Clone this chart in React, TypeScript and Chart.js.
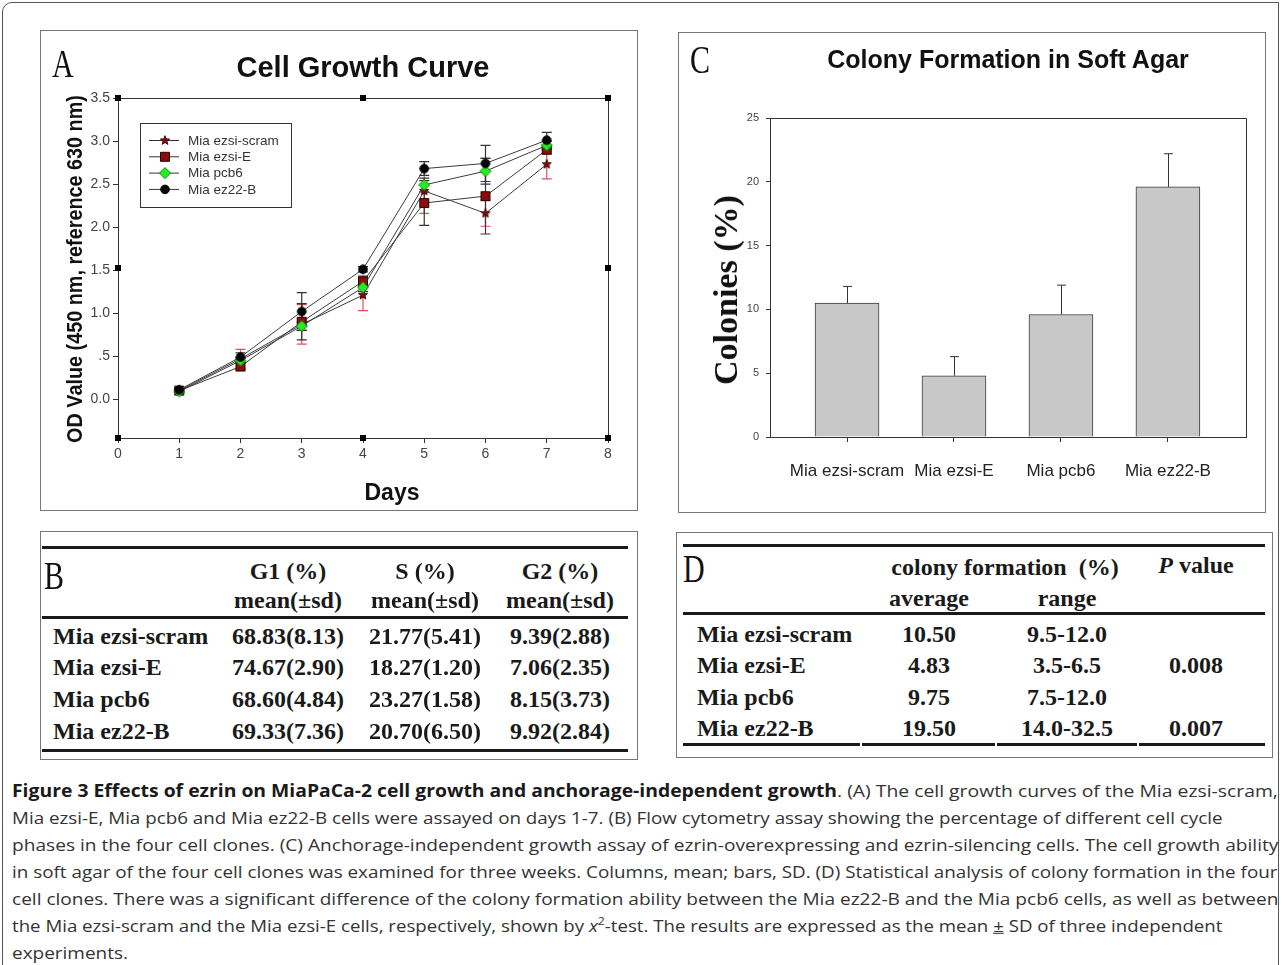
import React, { useEffect, useLayoutEffect, useRef, useState } from 'react';
import { Chart, registerables } from 'chart.js';

Chart.register(...registerables);

// ---------------- Panel A data ----------------
const days = [1, 2, 3, 4, 5, 6, 7];
const dayTicks = [0, 1, 2, 3, 4, 5, 6, 7, 8];
const dayTickLabels = ['0', '1', '2', '3', '4', '5', '6', '7', '8'];
const odTicks = [0, 0.5, 1, 1.5, 2, 2.5, 3, 3.5];
const odTickLabels = ['0.0', '.5', '1.0', '1.5', '2.0', '2.5', '3.0', '3.5'];
const cellLines = ['Mia ezsi-scram', 'Mia ezsi-E', 'Mia pcb6', 'Mia ez22-B'];

const odScram = [0.10, 0.47, 0.87, 1.21, 2.42, 2.16, 2.73];
const odEzsiE = [0.10, 0.38, 0.90, 1.37, 2.28, 2.36, 2.90];
const odPcb6 = [0.09, 0.45, 0.85, 1.30, 2.49, 2.65, 2.95];
const odEz22B = [0.11, 0.49, 1.02, 1.51, 2.68, 2.74, 3.01];

const sdScram = [0.02, 0.11, 0.23, 0.18, 0.26, 0.15, 0.17];
const sdEzsiE = [0.02, 0.04, 0.21, 0.06, 0.26, 0.44, 0.05];
const sdPcb6 = [0.02, 0.03, 0.05, 0.05, 0.08, 0.15, 0.05];
const sdEz22B = [0.02, 0.05, 0.22, 0.03, 0.08, 0.21, 0.09];

// ---------------- Panel C data ----------------
const colonyGroups = ['Mia ezsi-scram', 'Mia ezsi-E', 'Mia pcb6', 'Mia ez22-B'];
const colonyMean = [10.5, 4.8, 9.6, 19.6];
const colonySD = [1.3, 1.5, 2.3, 2.6];
const colonyTicks = [0, 5, 10, 15, 20, 25];

// ---------------- Panel B data ----------------
const cycleRows = ['Mia ezsi-scram', 'Mia ezsi-E', 'Mia pcb6', 'Mia ez22-B'];
const g1Values = ['68.83(8.13)', '74.67(2.90)', '68.60(4.84)', '69.33(7.36)'];
const sValues = ['21.77(5.41)', '18.27(1.20)', '23.27(1.58)', '20.70(6.50)'];
const g2Values = ['9.39(2.88)', '7.06(2.35)', '8.15(3.73)', '9.92(2.84)'];

// ---------------- Panel D data ----------------
const colonyRows = ['Mia ezsi-scram', 'Mia ezsi-E', 'Mia pcb6', 'Mia ez22-B'];
const colonyAverage = ['10.50', '4.83', '9.75', '19.50'];
const colonyRange = ['9.5-12.0', '3.5-6.5', '7.5-12.0', '14.0-32.5'];
const colonyP = ['', '0.008', '', '0.007'];

type MarkerKind = 'star' | 'square' | 'diamond' | 'circle';
const markerKinds: MarkerKind[] = ['star', 'square', 'diamond', 'circle'];
const errColors = ['#e4505a', '#333333', '#333333', '#333333'];
const odSeries = [odScram, odEzsiE, odPcb6, odEz22B];
const sdSeries = [sdScram, sdEzsiE, sdPcb6, sdEz22B];

function drawMarker(ctx: CanvasRenderingContext2D, kind: MarkerKind, x: number, y: number) {
  ctx.save();
  ctx.lineWidth = 1;
  ctx.beginPath();
  if (kind === 'star') {
    ctx.fillStyle = '#7a1010';
    ctx.strokeStyle = '#4a0000';
    const R = 4.8, r = 2.0;
    for (let k = 0; k < 10; k++) {
      const a = -Math.PI / 2 + (k * Math.PI) / 5;
      const rr = k % 2 === 0 ? R : r;
      const px = x + rr * Math.cos(a), py = y + rr * Math.sin(a);
      if (k === 0) ctx.moveTo(px, py); else ctx.lineTo(px, py);
    }
    ctx.closePath();
  } else if (kind === 'square') {
    ctx.fillStyle = '#8a0c0c';
    ctx.strokeStyle = '#2a0000';
    ctx.rect(x - 4.5, y - 4.5, 9, 9);
  } else if (kind === 'diamond') {
    ctx.fillStyle = '#22ee22';
    ctx.strokeStyle = '#118811';
    ctx.moveTo(x, y - 5.5);
    ctx.lineTo(x + 5.5, y);
    ctx.lineTo(x, y + 5.5);
    ctx.lineTo(x - 5.5, y);
    ctx.closePath();
  } else {
    ctx.fillStyle = '#050505';
    ctx.strokeStyle = '#000';
    ctx.arc(x, y, 4.3, 0, Math.PI * 2);
  }
  ctx.fill();
  ctx.stroke();
  ctx.restore();
}

function markerCanvas(kind: MarkerKind) {
  const c = document.createElement('canvas');
  c.width = 14;
  c.height = 14;
  const ctx = c.getContext('2d')!;
  drawMarker(ctx, kind, 7, 7);
  return c;
}

const SANS = '"Liberation Sans", Arial, Helvetica, sans-serif';
const SERIF = '"Liberation Serif", "Times New Roman", serif';

function GrowthChart() {
  const ref = useRef<HTMLCanvasElement>(null);
  useEffect(() => {
    if (!ref.current) return;
    const errorBars = {
      id: 'errorBarsA',
      beforeDatasetsDraw(chart: any) {
        const { ctx } = chart;
        const ys = chart.scales.y;
        ctx.save();
        chart.data.datasets.forEach((ds: any, i: number) => {
          const meta = chart.getDatasetMeta(i);
          ctx.strokeStyle = ds.errColor;
          ctx.lineWidth = 1.2;
          meta.data.forEach((pt: any, j: number) => {
            const v = ds.data[j].y;
            const sd = ds.sd[j];
            const x = pt.x;
            const y1 = ys.getPixelForValue(v + sd);
            const y2 = ys.getPixelForValue(v - sd);
            ctx.beginPath();
            ctx.moveTo(x, y1); ctx.lineTo(x, y2);
            ctx.moveTo(x - 5, y1); ctx.lineTo(x + 5, y1);
            ctx.moveTo(x - 5, y2); ctx.lineTo(x + 5, y2);
            ctx.stroke();
          });
        });
        ctx.restore();
      },
    };
    const frame = {
      id: 'frameA',
      afterDraw(chart: any) {
        const { ctx, chartArea } = chart;
        const { left, top, right, bottom } = chartArea;
        ctx.save();
        ctx.strokeStyle = '#333';
        ctx.lineWidth = 1;
        ctx.beginPath();
        ctx.moveTo(left, top + 0.5); ctx.lineTo(right + 0.5, top + 0.5); ctx.lineTo(right + 0.5, bottom);
        ctx.stroke();
        ctx.fillStyle = '#000';
        const mx = (left + right) / 2, my = (top + bottom) / 2;
        [[left, top], [mx, top], [right, top], [left, my], [right, my], [left, bottom], [mx, bottom], [right, bottom]].forEach(([x, y]) => {
          ctx.fillRect(Math.round(x) - 3, Math.round(y) - 3, 6, 6);
        });
        // legend
        const bx = Math.round(left + 22), by = Math.round(top + 25);
        ctx.fillStyle = '#fff';
        ctx.fillRect(bx, by, 151, 84);
        ctx.strokeStyle = '#333';
        ctx.strokeRect(bx + 0.5, by + 0.5, 151, 84);
        cellLines.forEach((name, i) => {
          const y = by + 17.5 + i * 16.3;
          ctx.strokeStyle = '#333';
          ctx.beginPath();
          ctx.moveTo(bx + 9, y); ctx.lineTo(bx + 39, y);
          ctx.stroke();
          drawMarker(ctx, markerKinds[i], bx + 25, y);
          ctx.fillStyle = '#333';
          ctx.font = `13.5px ${SANS}`;
          ctx.textBaseline = 'middle';
          ctx.textAlign = 'left';
          ctx.fillText(name, bx + 48, y + 0.5);
        });
        ctx.restore();
      },
    };
    const chart = new Chart(ref.current, {
      type: 'line',
      data: {
        datasets: cellLines.map((name, i) => ({
          label: name,
          data: days.map((d, j) => ({ x: d, y: odSeries[i][j] })),
          sd: sdSeries[i],
          errColor: errColors[i],
          borderColor: '#3c3c3c',
          borderWidth: 1,
          pointStyle: markerCanvas(markerKinds[i]),
          pointRadius: 5,
          order: 4 - i,
          fill: false,
          tension: 0,
        })) as any,
      },
      options: {
        animation: false,
        responsive: false,
        layout: { padding: { top: 66, right: 29, left: 0, bottom: 0 } },
        plugins: { legend: { display: false }, tooltip: { enabled: false } },
        scales: {
          x: {
            type: 'linear',
            min: 0,
            max: 8,
            afterBuildTicks: (s: any) => { s.ticks = dayTicks.map((v) => ({ value: v })); },
            afterFit: (s: any) => { s.height = 72; },
            ticks: {
              callback: (_v: any, i: number) => dayTickLabels[i],
              font: { size: 14, family: SANS },
              color: '#444',
              padding: 3,
              maxRotation: 0,
            },
            grid: { display: true, drawOnChartArea: false, tickLength: 5, color: '#333' },
            border: { display: true, color: '#333', width: 1 },
          },
          y: {
            type: 'linear',
            min: -0.45,
            max: 3.5,
            afterBuildTicks: (s: any) => { s.ticks = odTicks.map((v) => ({ value: v })); },
            afterFit: (s: any) => { s.width = 77; },
            ticks: {
              callback: (_v: any, i: number) => odTickLabels[i],
              font: { size: 14, family: SANS },
              color: '#444',
              padding: 3,
            },
            grid: { display: true, drawOnChartArea: false, tickLength: 5, color: '#333' },
            border: { display: true, color: '#333', width: 1 },
          },
        },
      },
      plugins: [errorBars, frame],
    } as any);
    return () => chart.destroy();
  }, []);
  return <canvas ref={ref} width={596} height={478} style={{ position: 'absolute', left: 41, top: 32, width: 596, height: 478 }} />;
}

function ColonyChart() {
  const ref = useRef<HTMLCanvasElement>(null);
  useEffect(() => {
    if (!ref.current) return;
    const extras = {
      id: 'extrasC',
      afterDraw(chart: any) {
        const { ctx, chartArea } = chart;
        const { left, top, right, bottom } = chartArea;
        ctx.save();
        ctx.strokeStyle = '#333';
        ctx.lineWidth = 1;
        ctx.beginPath();
        ctx.moveTo(left, top + 0.5); ctx.lineTo(right + 0.5, top + 0.5); ctx.lineTo(right + 0.5, bottom);
        ctx.stroke();
        const meta = chart.getDatasetMeta(0);
        const ys = chart.scales.y;
        meta.data.forEach((bar: any, j: number) => {
          const x = Math.round(bar.x) + 0.5;
          const yTop = ys.getPixelForValue(colonyMean[j]);
          const yErr = ys.getPixelForValue(colonyMean[j] + colonySD[j]);
          ctx.beginPath();
          ctx.moveTo(x, yTop); ctx.lineTo(x, yErr);
          ctx.moveTo(x - 4.5, yErr); ctx.lineTo(x + 4.5, yErr);
          ctx.stroke();
        });
        ctx.restore();
      },
    };
    const chart = new Chart(ref.current, {
      type: 'bar',
      data: {
        datasets: [
          {
            label: 'Colonies',
            data: colonyGroups.map((_g, i) => ({ x: i, y: colonyMean[i] })),
            backgroundColor: '#c8c8c8',
            borderColor: '#3a3a3a',
            borderWidth: 1,
            barThickness: 64,
          },
        ],
      },
      options: {
        animation: false,
        responsive: false,
        layout: { padding: { top: 84, right: 19, left: 0, bottom: 0 } },
        plugins: { legend: { display: false }, tooltip: { enabled: false } },
        scales: {
          x: {
            type: 'linear',
            offset: false,
            min: -0.72,
            max: 3.73,
            afterBuildTicks: (s: any) => { s.ticks = colonyGroups.map((_g, i) => ({ value: i })); },
            afterFit: (s: any) => { s.height = 75; },
            ticks: {
              callback: (_v: any, i: number) => colonyGroups[i],
              font: { size: 17, family: SANS },
              color: '#222',
              padding: 19,
              maxRotation: 0,
              autoSkip: false,
            },
            grid: { display: true, offset: false, drawOnChartArea: false, tickLength: 5, color: '#333' },
            border: { display: true, color: '#333', width: 1 },
          },
          y: {
            type: 'linear',
            min: 0,
            max: 25,
            afterBuildTicks: (s: any) => { s.ticks = colonyTicks.map((v) => ({ value: v })); },
            afterFit: (s: any) => { s.width = 90; },
            ticks: {
              callback: (v: any) => String(v),
              font: { size: 11, family: SANS },
              color: '#444',
              padding: 7,
            },
            grid: { display: true, drawOnChartArea: false, tickLength: 4, color: '#333' },
            border: { display: true, color: '#333', width: 1 },
          },
        },
      },
      plugins: [extras],
    } as any);
    return () => chart.destroy();
  }, []);
  return <canvas ref={ref} width={585} height={478} style={{ position: 'absolute', left: 680, top: 34, width: 585, height: 478 }} />;
}

function Txt(props: { x: number; y: number; align?: 'left' | 'center'; style?: React.CSSProperties; children: React.ReactNode }) {
  const { x, y, align = 'center', style, children } = props;
  return (
    <div
      style={{
        position: 'absolute',
        left: x,
        top: y,
        transform: align === 'left' ? 'translateY(-50%)' : 'translate(-50%,-50%)',
        whiteSpace: 'nowrap',
        lineHeight: 1,
        ...style,
      }}
    >
      {children}
    </div>
  );
}

function PanelLetter(props: { x: number; y: number; text: string }) {
  return (
    <div
      style={{
        position: 'absolute',
        left: props.x,
        top: props.y,
        fontFamily: SERIF,
        fontSize: 40,
        lineHeight: 1,
        color: '#111',
        transform: 'scaleX(0.75)',
        transformOrigin: 'left top',
      }}
    >
      {props.text}
    </div>
  );
}

const tableFont: React.CSSProperties = { fontFamily: SERIF, fontWeight: 'bold', fontSize: 24, color: '#1a1a1a' };

function Rule(props: { x: number; y: number; w: number; h?: number }) {
  return <div style={{ position: 'absolute', left: props.x, top: props.y, width: props.w, height: props.h ?? 3, background: '#1a1a1a' }} />;
}

const captionLines: React.ReactNode[] = [
  <>
    <b style={{ color: '#1a1a1a' }}>Figure 3 Effects of ezrin on MiaPaCa-2 cell growth and anchorage-independent growth</b>. (A) The cell growth curves of the Mia ezsi-scram,
  </>,
  <>Mia ezsi-E, Mia pcb6 and Mia ez22-B cells were assayed on days 1-7. (B) Flow cytometry assay showing the percentage of different cell cycle</>,
  <>phases in the four cell clones. (C) Anchorage-independent growth assay of ezrin-overexpressing and ezrin-silencing cells. The cell growth ability</>,
  <>in soft agar of the four cell clones was examined for three weeks. Columns, mean; bars, SD. (D) Statistical analysis of colony formation in the four</>,
  <>cell clones. There was a significant difference of the colony formation ability between the Mia ez22-B and the Mia pcb6 cells, as well as between</>,
  <>
    the Mia ezsi-scram and the Mia ezsi-E cells, respectively, shown by <i>x</i>
    <sup style={{ fontSize: '0.65em', lineHeight: 0 }}>2</sup>-test. The results are expressed as the mean <u>±</u> SD of three independent
  </>,
  <>experiments.</>,
];
// right ends of each caption line in the reference (0 = natural)
const captionRightEdge = [1278, 1222, 1278, 1278, 1278, 1222, 0];

function Caption() {
  const refs = useRef<(HTMLSpanElement | null)[]>([]);
  const [scales, setScales] = useState<number[]>(captionLines.map(() => 1));
  useLayoutEffect(() => {
    const s = captionLines.map((_l, i) => {
      const w = refs.current[i]?.offsetWidth || 1;
      return captionRightEdge[i] ? (captionRightEdge[i] - 12) / w : 0;
    });
    const valid = s.filter((v) => v > 0);
    const avg = valid.reduce((a, b) => a + b, 0) / valid.length;
    setScales(s.map((v) => (v > 0 ? v : avg)));
  }, []);
  return (
    <>
      {captionLines.map((ln, i) => (
        <div
          key={i}
          style={{
            position: 'absolute',
            left: 12,
            top: 791 + i * 27,
            transform: `translateY(-50%) scaleX(${scales[i]})`,
            transformOrigin: 'left center',
            whiteSpace: 'nowrap',
            lineHeight: 1.2,
            fontFamily: '"Open Sans", "Noto Sans", sans-serif',
            fontSize: 17,
            color: '#333',
          }}
        >
          <span ref={(el) => { refs.current[i] = el; }} style={{ display: 'inline-block' }}>{ln}</span>
        </div>
      ))}
    </>
  );
}

export default function App() {
  const boxStyle = (l: number, t: number, w: number, h: number): React.CSSProperties => ({
    position: 'absolute', left: l, top: t, width: w, height: h, border: '1px solid #777', boxSizing: 'border-box',
  });
  const bCols = [288, 425, 560];
  const bRowsY = [636, 667, 699, 731];
  const dRowsY = [634, 665, 697, 728];
  return (
    <div style={{ position: 'fixed', left: 0, top: 0, width: 1282, height: 965, background: '#fff', overflow: 'hidden' }}>
      <div style={{ position: 'absolute', left: 2, top: 2, width: 1277, height: 990, border: '1px solid #555', borderTopLeftRadius: 10, boxSizing: 'border-box' }} />

      {/* Panel A */}
      <div style={boxStyle(40, 30, 598, 481)} />
      <GrowthChart />
      <PanelLetter x={52} y={44} text="A" />
      <Txt x={363} y={67} style={{ fontFamily: SANS, fontWeight: 'bold', fontSize: 29, color: '#111' }}>Cell Growth Curve</Txt>
      <Txt x={75} y={269} style={{ fontFamily: SANS, fontWeight: 'bold', fontSize: 22.5, color: '#111', transform: 'translate(-50%,-50%) rotate(-90deg) scaleX(0.88)' }}>
        OD Value (450 nm, reference 630 nm)
      </Txt>
      <Txt x={392} y={492} style={{ fontFamily: SANS, fontWeight: 'bold', fontSize: 23, color: '#111' }}>Days</Txt>

      {/* Panel C */}
      <div style={boxStyle(678, 32, 588, 481)} />
      <ColonyChart />
      <PanelLetter x={690} y={40} text="C" />
      <Txt x={1008} y={59} style={{ fontFamily: SANS, fontWeight: 'bold', fontSize: 25, color: '#111' }}>Colony Formation in Soft Agar</Txt>
      <Txt x={726} y={290} style={{ fontFamily: SERIF, fontWeight: 'bold', fontSize: 34, color: '#111', transform: 'translate(-50%,-50%) rotate(-90deg)' }}>
        Colonies (%)
      </Txt>

      {/* Panel B */}
      <div style={boxStyle(40, 531, 598, 229)} />
      <Rule x={42} y={546} w={586} />
      <Rule x={42} y={616} w={586} />
      <Rule x={42} y={749} w={586} />
      <PanelLetter x={44} y={556} text="B" />
      {['G1 (%)', 'S (%)', 'G2 (%)'].map((h, i) => (
        <Txt key={h} x={bCols[i]} y={571} style={tableFont}>{h}</Txt>
      ))}
      {bCols.map((c, i) => (
        <Txt key={'m' + i} x={c} y={600} style={tableFont}>mean(±sd)</Txt>
      ))}
      {cycleRows.map((r, i) => (
        <React.Fragment key={r}>
          <Txt x={53} y={bRowsY[i]} align="left" style={tableFont}>{r}</Txt>
          <Txt x={bCols[0]} y={bRowsY[i]} style={tableFont}>{g1Values[i]}</Txt>
          <Txt x={bCols[1]} y={bRowsY[i]} style={tableFont}>{sValues[i]}</Txt>
          <Txt x={bCols[2]} y={bRowsY[i]} style={tableFont}>{g2Values[i]}</Txt>
        </React.Fragment>
      ))}

      {/* Panel D */}
      <div style={boxStyle(676, 532, 597, 226)} />
      <Rule x={683} y={544} w={582} />
      <Rule x={683} y={612} w={582} />
      <Rule x={683} y={743} w={177} />
      <Rule x={862} y={743} w={133} />
      <Rule x={997} y={743} w={140} />
      <Rule x={1139} y={743} w={126} />
      <PanelLetter x={683} y={549} text="D" />
      <Txt x={1005} y={567} style={tableFont}>colony formation&nbsp; (%)</Txt>
      <Txt x={1196} y={565} style={tableFont}>
        <i>P</i> value
      </Txt>
      <Txt x={929} y={598} style={tableFont}>average</Txt>
      <Txt x={1067} y={598} style={tableFont}>range</Txt>
      {colonyRows.map((r, i) => (
        <React.Fragment key={r}>
          <Txt x={697} y={dRowsY[i]} align="left" style={tableFont}>{r}</Txt>
          <Txt x={929} y={dRowsY[i]} style={tableFont}>{colonyAverage[i]}</Txt>
          <Txt x={1067} y={dRowsY[i]} style={tableFont}>{colonyRange[i]}</Txt>
          <Txt x={1196} y={dRowsY[i]} style={tableFont}>{colonyP[i]}</Txt>
        </React.Fragment>
      ))}

      <Caption />
    </div>
  );
}
